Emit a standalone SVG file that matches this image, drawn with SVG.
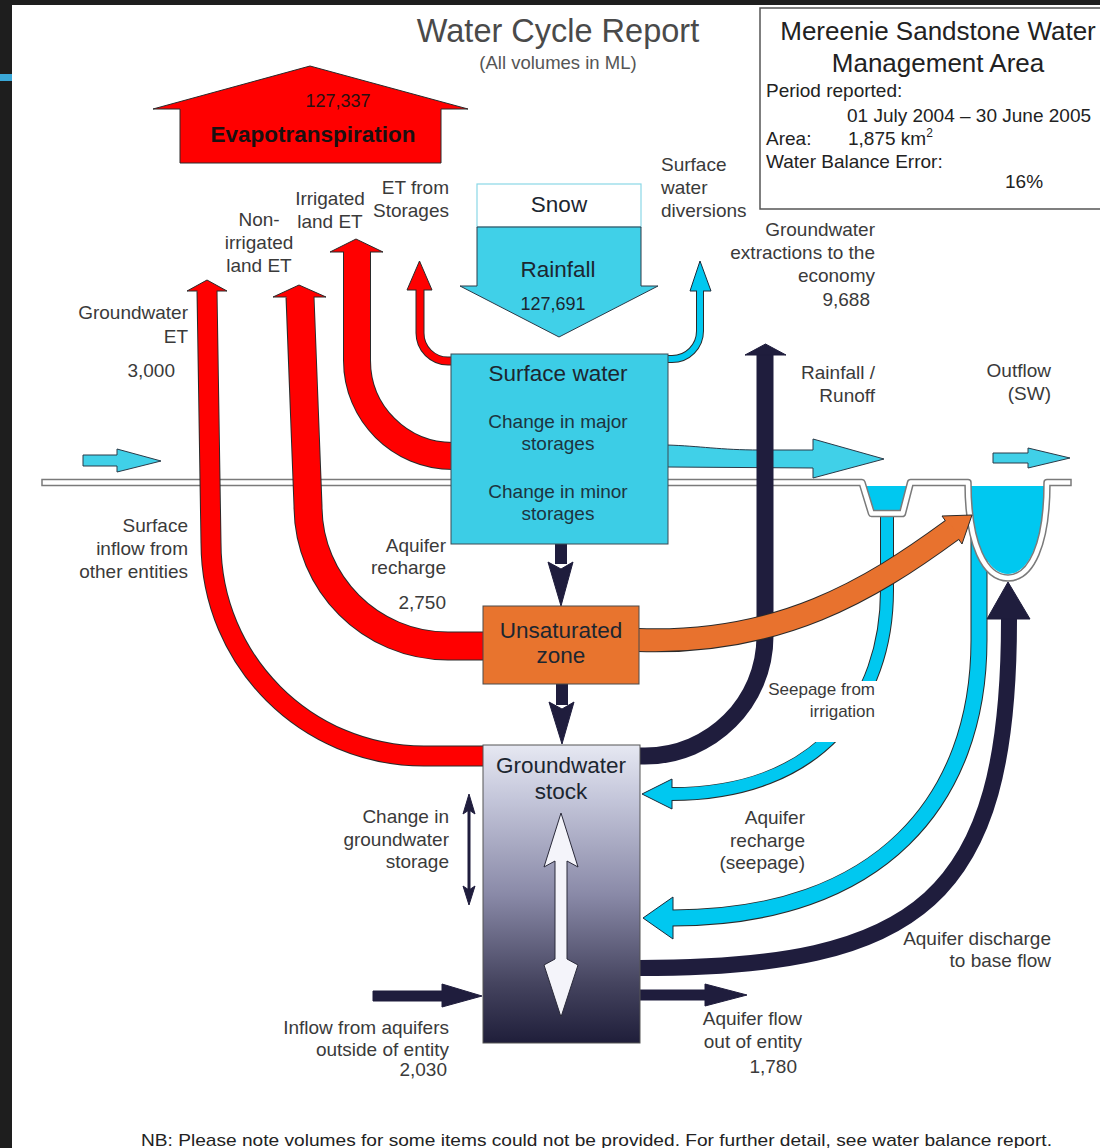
<svg xmlns="http://www.w3.org/2000/svg" width="1100" height="1148" viewBox="0 0 1100 1148">
<defs>
<style>
text { font-family: "Liberation Sans", Arial, sans-serif; }
.lbl { font-size: 19px; fill: #3a3a3a; }
.sm { font-size: 17px; fill: #3a3a3a; }
.r { text-anchor: end; }
.m { text-anchor: middle; }
.bt { font-size: 22.5px; fill: #1c2630; text-anchor: middle; }
.bs { font-size: 19px; fill: #1c3440; text-anchor: middle; }
.info { font-size: 19px; fill: #222; }
.ol { fill: none; stroke: #2a2a2a; stroke-linecap: butt; stroke-linejoin: round; }
.red { fill: none; stroke: #ff0000; stroke-linecap: butt; }
.cy { fill: none; stroke: #00c8f0; stroke-linecap: butt; }
.nv { fill: none; stroke: #1f1d3d; stroke-linecap: butt; }
.or { fill: none; stroke: #e8722e; stroke-linecap: butt; }
.hr { fill: #ff0000; stroke: #2a2a2a; stroke-width: 1; stroke-linejoin: miter; }
.hc { fill: #00c8f0; stroke: #1a2a3a; stroke-width: 1; }
.hn { fill: #1f1d3d; stroke: #1f1d3d; stroke-width: 1; }
.ho { fill: #e8722e; stroke: #2a2a2a; stroke-width: 1; }
.lc { fill: #40d0e8; stroke: #2a3a48; stroke-width: 1; }
</style>
<linearGradient id="gwGrad" x1="0" y1="0" x2="0" y2="1">
<stop offset="0" stop-color="#e6e8f2"/>
<stop offset="0.18" stop-color="#c4c6da"/>
<stop offset="0.5" stop-color="#8a8aa8"/>
<stop offset="0.8" stop-color="#45445f"/>
<stop offset="1" stop-color="#1f1e3a"/>
</linearGradient>
<mask id="seepMask" maskUnits="userSpaceOnUse" x="0" y="0" width="1100" height="1148">
<rect x="0" y="0" width="1100" height="1148" fill="#fff"/>
<rect x="760" y="681" width="140" height="61" fill="#000"/>
</mask>
</defs>

<!-- background -->
<rect x="0" y="0" width="1100" height="1148" fill="#1e1e1e"/>
<rect x="12" y="5" width="1088" height="1143" fill="#ffffff"/>
<rect x="0" y="74" width="12" height="7" fill="#3aa8d8"/>

<g id="connectors">
<!-- seepage from irrigation -->
<g mask="url(#seepMask)">
<path class="ol" stroke-width="14" d="M 887 512 L 887 590 C 887 700, 820 794, 672 794"/>
<polygon class="hc" points="672,779 642,794 672,809"/>
<path class="cy" stroke-width="12" d="M 887 512 L 887 590 C 887 700, 820 794, 670 794"/>
</g>

<!-- aquifer recharge (seepage) -->
<path class="ol" stroke-width="17" d="M 979 530 L 979 640 C 979 800, 880 918, 673 918"/>
<polygon class="hc" points="673,897 643,918 673,939"/>
<path class="cy" stroke-width="15" d="M 979 530 L 979 640 C 979 800, 880 918, 671 918"/>
</g>

<!-- ground surface with channel and river -->
<g id="ground">
<polygon points="865,486 874,510 900,510 907,486" fill="#00c8f0"/>
<path d="M 971 486 C 971 540, 987 574, 1008 574 C 1029 574, 1044 540, 1044 486 Z" fill="#00c8f0"/>
<path d="M 45 482.5 L 862 482.5 L 871.5 513.5 L 902.5 513.5 L 910.5 482.5 L 968 482.5 C 968 545, 985 578, 1008 578 C 1031 578, 1047 545, 1047 482.5 L 1068 482.5" fill="none" stroke="#7a7a7a" stroke-width="7.5" stroke-linejoin="round" stroke-linecap="square"/>
<path d="M 45 482.5 L 862 482.5 L 871.5 513.5 L 902.5 513.5 L 910.5 482.5 L 968 482.5 C 968 545, 985 578, 1008 578 C 1031 578, 1047 545, 1047 482.5 L 1068 482.5" fill="none" stroke="#ffffff" stroke-width="4.5" stroke-linejoin="round" stroke-linecap="square"/>
</g>

<g id="connectors-main">
<!-- surface inflow and outflow arrows -->
<polygon class="lc" points="83,455 117,455 117,449 161,461 117,472 117,466 83,466"/>
<polygon class="lc" points="993,453 1028,453 1028,448 1070,458 1028,468 1028,463 993,463"/>
<!-- rainfall / runoff -->
<path class="lc" d="M 667 445 C 700 446, 720 450, 760 450 L 813 450 L 813 439 L 884 459 L 813 478 L 813 468 L 667 467 Z"/>

<!-- surface water diversions -->
<path class="ol" stroke-width="8" d="M 667 359 L 672 359 C 687.5 359, 700 346.5, 700 331 L 700 291"/>
<polygon class="hc" points="690,291 700,261 711,291"/>
<path class="cy" stroke-width="6" d="M 667 359 L 672 359 C 687.5 359, 700 346.5, 700 331 L 700 289"/>

<!-- groundwater ET -->
<path class="ol" stroke-width="21" d="M 484 756 L 424 756 C 306.4 756, 211 660.6, 211 543 L 207 291"/>
<polygon class="hr" points="187,291 207,280 227,291"/>
<path class="red" stroke-width="19" d="M 484 756 L 424 756 C 306.4 756, 211 660.6, 211 543 L 207 289"/>

<!-- non-irrigated land ET -->
<path class="ol" stroke-width="29" d="M 484 646 L 448 646 C 370.7 646, 308 583.3, 308 506 L 300 297"/>
<polygon class="hr" points="273,297 299,285 326,297"/>
<path class="red" stroke-width="27" d="M 484 646 L 448 646 C 370.7 646, 308 583.3, 308 506 L 300 295"/>

<!-- irrigated land ET -->
<path class="ol" stroke-width="28" d="M 453 456 C 399.8 456, 357 413.2, 357 360.5 L 357 252"/>
<polygon class="hr" points="330,252 356,239 383,252"/>
<path class="red" stroke-width="26" d="M 453 456 C 399.8 456, 357 413.2, 357 360.5 L 357 250"/>

<!-- ET from storages -->
<path class="ol" stroke-width="9" d="M 453 361 L 448 361 C 432.5 361, 420 348.5, 420 333 L 420 290"/>
<polygon class="hr" points="407,290 419.5,261 432,290"/>
<path class="red" stroke-width="7" d="M 453 361 L 448 361 C 432.5 361, 420 348.5, 420 333 L 420 288"/>

<!-- groundwater extractions to the economy -->
<path class="nv" stroke-width="17" d="M 639 756 L 645 756 C 711.3 756, 765 702.3, 765 636 L 765 354"/>
<polygon class="hn" points="745,355 765.5,344 786,355"/>

<!-- unsaturated zone to river -->
<path class="ol" stroke-width="24" d="M 638 640 C 780 645, 870 590, 952 530"/>
<polygon class="ho" points="942,516 972,515 962,544"/>
<path class="or" stroke-width="22" d="M 638 640 C 780 645, 870 590, 952 530 L 953.6 528.8"/>

<!-- aquifer discharge to base flow -->
<path class="nv" stroke-width="16" d="M 639 968 C 920 968, 1009 900, 1009 620 L 1009 618"/>
<polygon class="hn" points="987,619 1008,582 1030,619"/>

<!-- surface water to unsaturated zone -->
<rect x="555" y="543" width="12" height="21" fill="#1f1d3d"/>
<polygon class="hn" points="548,562 561,569 573,562 561,606"/>
<!-- unsaturated zone to groundwater -->
<rect x="556" y="683" width="12" height="22" fill="#1f1d3d"/>
<polygon class="hn" points="549,702 562,709 574,702 562,744"/>

<!-- inflow from aquifers outside -->
<polygon class="hn" points="373,991 442,991 442,984 482,996 442,1007 442,1001 373,1001"/>
<!-- aquifer flow out of entity -->
<polygon class="hn" points="640,990 705,990 705,984 747,995 705,1006 705,1000 640,1000"/>

<!-- change in groundwater storage -->
<rect x="467.5" y="810" width="3" height="80" fill="#1f1d3d"/>
<polygon class="hn" points="463,814 469,794 475,814 469,810"/>
<polygon class="hn" points="463,886 469,905 475,886 469,890"/>
</g>

<!-- nodes -->
<g id="evapotranspiration">
<polygon points="310,66 468,109 441,109 441,163 180,163 180,109 153,109" fill="#ff0000" stroke="#2a2a2a" stroke-width="1"/>
<text x="338" y="107" class="m" font-size="18" fill="#2a1010">127,337</text>
<text x="313" y="142" class="m" font-size="22.5" font-weight="bold" fill="#1a1010">Evapotranspiration</text>
</g>

<g id="snow">
<rect x="477" y="184" width="164" height="43" fill="#ffffff" stroke="#8ad8e6" stroke-width="1.2"/>
<text x="559" y="212" class="bt">Snow</text>
</g>

<g id="rainfall">
<polygon points="477,227 641,227 641,286 658,286 559,337 460,286 477,286" fill="#40d0e8" stroke="#2a3a48" stroke-width="1"/>
<text x="558" y="277" class="bt">Rainfall</text>
<text x="553" y="310" class="m" font-size="18" fill="#1c2630">127,691</text>
</g>

<g id="surface-water">
<rect x="451" y="354" width="217" height="190" fill="#3ccde6" stroke="#3a4a55" stroke-width="1"/>
<text x="558" y="381" class="bt">Surface water</text>
<text x="558" y="428" class="bs">Change in major</text>
<text x="558" y="450" class="bs">storages</text>
<text x="558" y="498" class="bs">Change in minor</text>
<text x="558" y="520" class="bs">storages</text>
</g>

<g id="unsaturated-zone">
<rect x="483" y="606" width="156" height="78" fill="#e8742e" stroke="#4a4a4a" stroke-width="1"/>
<text x="561" y="638" class="bt" fill="#2a1a10">Unsaturated</text>
<text x="561" y="663" class="bt">zone</text>
</g>

<g id="groundwater-stock">
<rect x="483" y="745" width="157" height="298" fill="url(#gwGrad)" stroke="#555" stroke-width="1"/>
<text x="561" y="773" class="bt">Groundwater</text>
<text x="561" y="799" class="bt">stock</text>
<polygon points="561,813 578,867 567,861 567,959 578,965 561,1017 544,965 555,959 555,861 544,867" fill="#f4f4fa" stroke="#2a2a3a" stroke-width="1"/>
</g>

<g id="info-box">
<rect x="760" y="8" width="345" height="201" fill="#ffffff" stroke="#555" stroke-width="1.5"/>
<text x="938" y="40" class="m" font-size="26" fill="#222">Mereenie Sandstone Water</text>
<text x="938" y="72" class="m" font-size="26" fill="#222">Management Area</text>
<text x="766" y="97" class="info">Period reported:</text>
<text x="847" y="122" class="info">01 July 2004 – 30 June 2005</text>
<text x="766" y="145" class="info">Area:</text>
<text x="848" y="145" class="info">1,875 km<tspan font-size="12" dy="-8">2</tspan></text>
<text x="766" y="168" class="info">Water Balance Error:</text>
<text x="1005" y="188" class="info">16%</text>
</g>

<!-- labels -->
<g id="labels">
<text x="558" y="42" class="m" font-size="32.5" fill="#4a4a4a">Water Cycle Report</text>
<text x="558" y="69" class="m" font-size="18.5" fill="#555">(All volumes in ML)</text>

<text class="lbl m" x="259" y="226">Non-</text>
<text class="lbl m" x="259" y="249">irrigated</text>
<text class="lbl m" x="259" y="272">land ET</text>
<text class="lbl m" x="330" y="205">Irrigated</text>
<text class="lbl m" x="330" y="228">land ET</text>
<text class="lbl r" x="449" y="194">ET from</text>
<text class="lbl r" x="449" y="217">Storages</text>
<text class="lbl" x="661" y="171">Surface</text>
<text class="lbl" x="661" y="194">water</text>
<text class="lbl" x="661" y="217">diversions</text>

<text class="lbl r" x="875" y="236">Groundwater</text>
<text class="lbl r" x="875" y="259">extractions to the</text>
<text class="lbl r" x="875" y="282">economy</text>
<text class="lbl r" x="870" y="306">9,688</text>

<text class="lbl r" x="188" y="319">Groundwater</text>
<text class="lbl r" x="188" y="343">ET</text>
<text class="lbl r" x="175" y="377">3,000</text>

<text class="lbl r" x="875" y="379">Rainfall /</text>
<text class="lbl r" x="875" y="402">Runoff</text>
<text class="lbl r" x="1051" y="377">Outflow</text>
<text class="lbl r" x="1051" y="400">(SW)</text>

<text class="lbl r" x="188" y="532">Surface</text>
<text class="lbl r" x="188" y="555">inflow from</text>
<text class="lbl r" x="188" y="578">other entities</text>

<text class="lbl r" x="446" y="552">Aquifer</text>
<text class="lbl r" x="446" y="574">recharge</text>
<text class="lbl r" x="446" y="609">2,750</text>

<text class="sm r" x="875" y="695">Seepage from</text>
<text class="sm r" x="875" y="717">irrigation</text>

<text class="lbl r" x="449" y="823">Change in</text>
<text class="lbl r" x="449" y="846">groundwater</text>
<text class="lbl r" x="449" y="868">storage</text>

<text class="lbl r" x="805" y="824">Aquifer</text>
<text class="lbl r" x="805" y="847">recharge</text>
<text class="lbl r" x="805" y="869">(seepage)</text>

<text class="lbl r" x="1051" y="945">Aquifer discharge</text>
<text class="lbl r" x="1051" y="967">to base flow</text>

<text class="lbl r" x="449" y="1034">Inflow from aquifers</text>
<text class="lbl r" x="449" y="1056">outside of entity</text>
<text class="lbl r" x="447" y="1076">2,030</text>

<text class="lbl r" x="802" y="1025">Aquifer flow</text>
<text class="lbl r" x="802" y="1048">out of entity</text>
<text class="lbl r" x="797" y="1073">1,780</text>

<text x="141" y="1146" font-size="17" fill="#222" textLength="911" lengthAdjust="spacingAndGlyphs">NB: Please note volumes for some items could not be provided. For further detail, see water balance report.</text>
</g>
</svg>
